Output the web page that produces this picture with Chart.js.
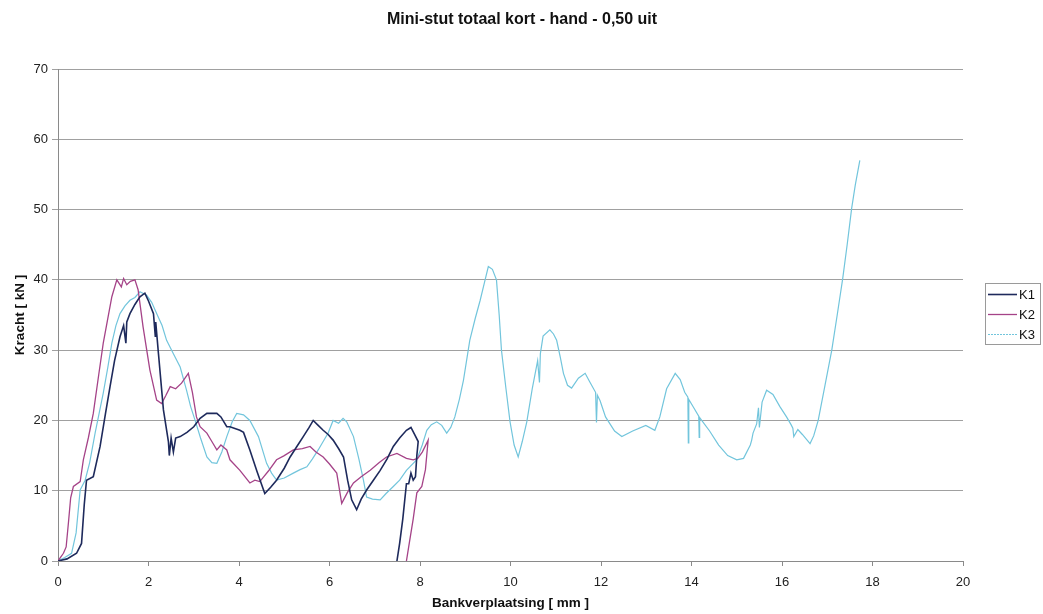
<!DOCTYPE html>
<html>
<head>
<meta charset="utf-8">
<title>Mini-stut totaal kort - hand - 0,50 uit</title>
<script src="https://cdn.jsdelivr.net/npm/chart.js@4.4.1/dist/chart.umd.min.js"></script>
<style>
    html, body { margin: 0; padding: 0; background: #fff; }
    #wrap { width: 1043px; height: 614px; }
</style>
</head>
<body>
<div id="wrap"><canvas id="chart" width="1043" height="614"></canvas></div>
<script>
// Data (Bankverplaatsing [mm] vs Kracht [kN])
const k1X = [0, 0.2, 0.41, 0.52, 0.58, 0.63, 0.78, 0.93, 1.05, 1.15, 1.25, 1.37, 1.45, 1.5, 1.52, 1.59, 1.7, 1.81, 1.92, 2.0, 2.11, 2.15, 2.16, 2.22, 2.33, 2.44, 2.46, 2.5, 2.55, 2.6, 2.7, 2.85, 3.0, 3.14, 3.29, 3.4, 3.51, 3.6, 3.73, 3.8, 4.02, 4.1, 4.24, 4.4, 4.57, 4.7, 4.83, 5.0, 5.13, 5.3, 5.42, 5.55, 5.64, 5.75, 5.86, 5.97, 6.08, 6.2, 6.31, 6.4, 6.49, 6.6, 6.7, 6.82, 6.97, 7.12, 7.27, 7.41, 7.55, 7.7, 7.8, 7.88, 7.96, 7.93, 7.9, 7.85, 7.8, 7.75, 7.7, 7.62, 7.55, 7.49];
const k1Y = [0, 0.3, 1.1, 2.5, 8, 11.5, 12, 16.3, 21, 24.8, 28.5, 31.9, 33.5, 31, 34, 35.2, 36.5, 37.6, 38.1, 37, 35.2, 32, 34, 29.5, 21.5, 17, 15, 17.5, 15.5, 17.5, 17.7, 18.3, 19.1, 20.3, 21, 21, 21, 20.5, 19.1, 19.1, 18.6, 18.3, 15.8, 12.7, 9.6, 10.5, 11.5, 13.2, 14.8, 16.5, 17.7, 19, 20, 19.3, 18.6, 18, 17.2, 16, 14.8, 11.5, 8.7, 7.3, 8.8, 10.1, 11.5, 12.9, 14.5, 16.3, 17.5, 18.6, 19, 18, 17, 15, 12, 11.5, 12.5, 11, 11, 6, 2.5, 0];

const k2X = [0, 0.12, 0.18, 0.23, 0.28, 0.34, 0.49, 0.56, 0.67, 0.78, 0.9, 1.0, 1.1, 1.19, 1.3, 1.4, 1.45, 1.52, 1.6, 1.7, 1.77, 1.88, 2.03, 2.18, 2.29, 2.38, 2.48, 2.6, 2.73, 2.88, 2.97, 3.06, 3.14, 3.29, 3.4, 3.51, 3.6, 3.73, 3.8, 4.02, 4.24, 4.35, 4.46, 4.65, 4.83, 5.0, 5.2, 5.4, 5.57, 5.7, 5.86, 6.0, 6.16, 6.27, 6.4, 6.53, 6.7, 6.9, 7.1, 7.26, 7.49, 7.7, 7.85, 7.95, 8.05, 8.18, 8.12, 8.07, 8.04, 7.93, 7.85, 7.75, 7.7];
const k2Y = [0, 1.1, 2, 5.4, 9, 10.6, 11.3, 14.4, 17.5, 21, 26.5, 31, 34.5, 37.6, 40, 39, 40.2, 39.3, 39.8, 40, 38.6, 33.3, 27.2, 22.9, 22.4, 23.5, 24.8, 24.5, 25.3, 26.7, 24, 20.5, 19.1, 18.2, 17, 15.8, 16.5, 15.8, 14.4, 12.9, 11.1, 11.5, 11.3, 12.8, 14.4, 15, 15.8, 16, 16.3, 15.5, 14.8, 13.8, 12.5, 8.2, 9.8, 11.1, 12, 12.9, 14, 14.8, 15.3, 14.6, 14.4, 14.6, 15.5, 17.2, 13, 11.5, 10.6, 9.7, 6, 2, 0];

const k3X = [0, 0.15, 0.3, 0.4, 0.49, 0.6, 0.7, 0.82, 1.0, 1.1, 1.19, 1.28, 1.37, 1.48, 1.59, 1.7, 1.81, 1.96, 2.07, 2.18, 2.3, 2.4, 2.55, 2.7, 2.84, 2.93, 3.03, 3.15, 3.29, 3.4, 3.51, 3.62, 3.73, 3.85, 3.95, 4.1, 4.24, 4.43, 4.61, 4.72, 4.83, 5.0, 5.2, 5.35, 5.5, 5.62, 5.75, 5.97, 6.08, 6.2, 6.3, 6.38, 6.53, 6.65, 6.75, 6.82, 6.95, 7.12, 7.25, 7.41, 7.55, 7.7, 7.93, 8.05, 8.15, 8.25, 8.37, 8.48, 8.59, 8.68, 8.77, 8.87, 8.96, 9.1, 9.22, 9.33, 9.42, 9.51, 9.6, 9.69, 9.75, 9.8, 9.9, 9.99, 10.08, 10.17, 10.26, 10.36, 10.48, 10.6, 10.64, 10.66, 10.72, 10.87, 10.95, 11.02, 11.1, 11.17, 11.26, 11.35, 11.5, 11.65, 11.75, 11.88, 11.9, 11.92, 11.98, 12.1, 12.3, 12.46, 12.7, 12.99, 13.19, 13.3, 13.45, 13.64, 13.75, 13.85, 13.92, 13.93, 13.94, 14.05, 14.16, 14.17, 14.18, 14.4, 14.6, 14.8, 15.0, 15.15, 15.3, 15.33, 15.36, 15.44, 15.48, 15.5, 15.56, 15.66, 15.8, 15.95, 16.1, 16.2, 16.24, 16.26, 16.35, 16.45, 16.62, 16.7, 16.8, 16.95, 17.1, 17.22, 17.34, 17.44, 17.54, 17.62, 17.72];
const k3Y = [0, 0.5, 1.1, 4, 10.1, 11.5, 14, 18.2, 23.9, 27.5, 31, 33.5, 35.2, 36.3, 37.1, 37.5, 38.3, 37.8, 36.8, 35.2, 33.5, 31.4, 29.5, 27.6, 24.3, 22, 20, 17.5, 14.8, 14, 13.9, 15.5, 17.7, 19.8, 21, 20.8, 20, 17.7, 13.9, 12.5, 11.5, 11.8, 12.5, 13, 13.4, 14.5, 15.8, 18.2, 20, 19.6, 20.3, 19.8, 17.7, 14.5, 11.5, 9.1, 8.8, 8.7, 9.6, 10.6, 11.5, 12.9, 14.4, 16.5, 18.6, 19.4, 19.8, 19.3, 18.2, 19, 20.5, 23, 25.7, 31.4, 34.5, 37.1, 39.5, 41.9, 41.5, 40, 35, 30, 24.5, 19.8, 16.5, 14.8, 17, 19.8, 24.5, 28.5, 25.4, 29.5, 32, 32.9, 32.3, 31.4, 29, 26.7, 25, 24.6, 26, 26.7, 25.5, 24, 19.7, 23.6, 22.8, 20.5, 18.5, 17.7, 18.5, 19.3, 18.6, 20.5, 24.5, 26.7, 25.8, 24, 23.3, 16.8, 23, 21.8, 20.6, 17.6, 20.4, 18.5, 16.5, 15, 14.4, 14.6, 16.5, 17.2, 18.2, 19.5, 21.8, 19, 22.6, 24.3, 23.7, 22, 20.5, 19.4, 18.9, 17.7, 18.7, 18, 16.7, 17.8, 20, 25, 30, 35, 40.1, 45, 50.2, 53.5, 57];

const seriesNames = ['K1', 'K2', 'K3'];
const xTicks = [0, 2, 4, 6, 8, 10, 12, 14, 16, 18, 20];
const yTicks = [0, 10, 20, 30, 40, 50, 60, 70];

const colors = ['#1e2a5c', '#a54388', '#72c5dc'];
const widths = [1.6, 1.3, 1.2];

function pairs(xs, ys) {
    return xs.map((x, i) => ({ x: x, y: ys[i] }));
}

const FONT = '"Liberation Sans", Arial, sans-serif';

// Title, legend box and white background
const decorations = {
    id: 'decorations',
    beforeDraw(chart) {
        const ctx = chart.ctx;
        ctx.save();
        ctx.fillStyle = '#ffffff';
        ctx.fillRect(0, 0, chart.width, chart.height);
        ctx.restore();
    },
    afterDraw(chart) {
        const ctx = chart.ctx;
        ctx.save();
        ctx.fillStyle = '#111';
        ctx.font = 'bold 16px ' + FONT;
        ctx.textAlign = 'center';
        ctx.textBaseline = 'middle';
        ctx.fillText('Mini-stut totaal kort - hand - 0,50 uit', 522, 20);

        // legend
        ctx.strokeStyle = '#9a9a9a';
        ctx.lineWidth = 1;
        ctx.strokeRect(985.5, 283.5, 55, 61);
        ctx.font = '13px ' + FONT;
        ctx.textAlign = 'left';
        seriesNames.forEach((name, i) => {
            const y = 294 + i * 20;
            ctx.strokeStyle = colors[i];
            ctx.lineWidth = widths[i];
            if (i === 2) ctx.setLineDash([2, 1]);
            ctx.beginPath();
            ctx.moveTo(988, y + 0.5);
            ctx.lineTo(1017, y + 0.5);
            ctx.stroke();
            ctx.setLineDash([]);
            ctx.fillStyle = '#111';
            ctx.fillText(name, 1019, y + 1);
        });
        ctx.restore();
    }
};

new Chart(document.getElementById('chart'), {
    type: 'scatter',
    data: {
        datasets: [
            { label: seriesNames[0], data: pairs(k1X, k1Y), borderColor: colors[0], borderWidth: widths[0] },
            { label: seriesNames[1], data: pairs(k2X, k2Y), borderColor: colors[1], borderWidth: widths[1] },
            { label: seriesNames[2], data: pairs(k3X, k3Y), borderColor: colors[2], borderWidth: widths[2] }
        ].map(d => Object.assign(d, { showLine: true, pointRadius: 0, tension: 0, fill: false }))
    },
    options: {
        responsive: false,
        animation: false,
        layout: { padding: { top: 69, right: 80, bottom: 0, left: 0 } },
        plugins: {
            legend: { display: false },
            title: { display: false },
            tooltip: { enabled: false }
        },
        scales: {
            x: {
                type: 'linear',
                min: 0,
                max: 20,
                afterBuildTicks: s => { s.ticks = xTicks.map(v => ({ value: v })); },
                afterFit: s => { s.height = 53; },
                grid: { drawOnChartArea: false, drawTicks: true, tickLength: 5, color: '#8a8a8a' },
                border: { color: '#8a8a8a' },
                ticks: { color: '#222', font: { family: FONT, size: 13 }, padding: 9, maxRotation: 0 },
                title: {
                    display: true,
                    text: 'Bankverplaatsing [ mm ]',
                    color: '#111',
                    font: { family: FONT, size: 13.5, weight: 'bold' },
                    padding: { top: 0, bottom: 3 }
                }
            },
            y: {
                type: 'linear',
                min: 0,
                max: 70,
                afterBuildTicks: s => { s.ticks = yTicks.map(v => ({ value: v })); },
                afterFit: s => { s.width = 58; },
                grid: { color: '#a0a0a0', tickLength: 6 },
                border: { color: '#8a8a8a' },
                ticks: { color: '#222', font: { family: FONT, size: 13 }, padding: 4 },
                title: {
                    display: true,
                    text: 'Kracht [ kN ]',
                    color: '#111',
                    font: { family: FONT, size: 13.5, weight: 'bold' },
                    padding: { top: 12, bottom: 0 }
                }
            }
        }
    },
    plugins: [decorations]
});
</script>
</body>
</html>
